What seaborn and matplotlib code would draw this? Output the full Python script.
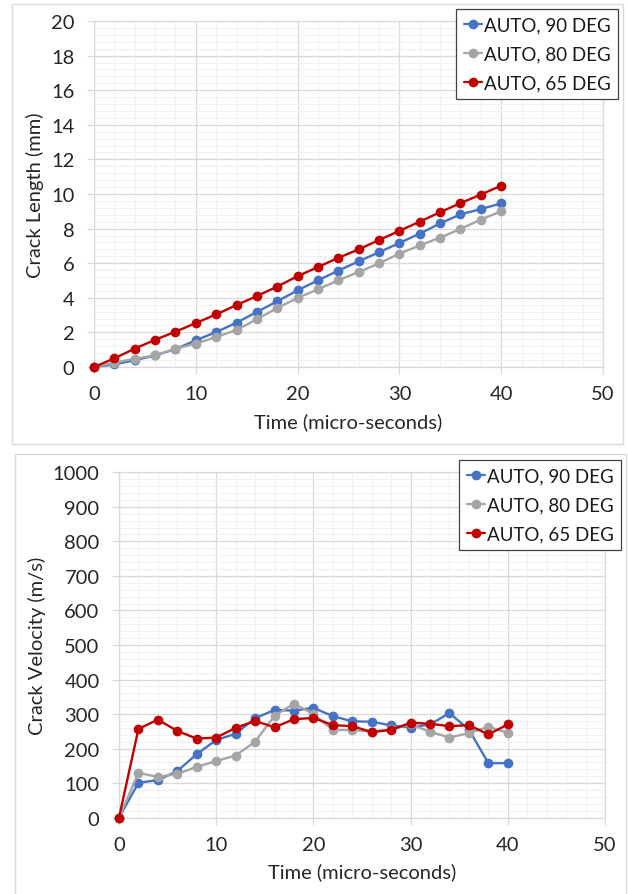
import numpy as np
import pandas as pd
import matplotlib
matplotlib.use("Agg")
import matplotlib.pyplot as plt
from matplotlib.ticker import MultipleLocator
from matplotlib.patches import Rectangle
import seaborn as sns

# ── Data ──────────────────────────────────────────────────────────────────────
time_us = [0, 2, 4, 6, 8, 10, 12, 14, 16, 18, 20,
           22, 24, 26, 28, 30, 32, 34, 36, 38, 40]

series_names = ["AUTO, 90 DEG", "AUTO, 80 DEG", "AUTO, 65 DEG"]

length_90 = [0, 0.15, 0.39, 0.67, 1.04, 1.54, 2.02, 2.56, 3.18, 3.80, 4.43,
             5.01, 5.57, 6.11, 6.63, 7.17, 7.71, 8.30, 8.82, 9.13, 9.46]
length_80 = [0, 0.25, 0.48, 0.67, 1.06, 1.35, 1.73, 2.14, 2.76, 3.41, 3.99,
             4.49, 5.01, 5.49, 5.99, 6.55, 7.03, 7.48, 7.98, 8.52, 9.00]
length_65 = [0, 0.50, 1.06, 1.57, 2.04, 2.54, 3.04, 3.58, 4.10, 4.65, 5.25,
             5.78, 6.31, 6.80, 7.34, 7.87, 8.40, 8.95, 9.47, 9.97, 10.48]

velocity_90 = [0, 101, 109, 135, 184, 225, 243, 288, 312, 310, 318,
               294, 279, 278, 267, 261, 270, 303, 255, 158, 158]
velocity_80 = [0, 130, 118, 127, 147, 164, 180, 220, 295, 330, 300,
               254, 254, 249, 256, 270, 249, 232, 245, 263, 246]
velocity_65 = [0, 257, 284, 251, 229, 232, 260, 280, 262, 285, 289,
               268, 265, 248, 254, 275, 272, 265, 268, 241, 270]

COLORS = ["#4472C4", "#A5A5A5", "#C00000"]
GRID_MAJ = "#d9d9d9"
GRID_MIN = "#f0f0f0"
TEXT = "#262626"

sns.set_theme(style="white")
plt.rcParams["font.family"] = ["Lato", "DejaVu Sans"]


def long_frame(values):
    rows = []
    for name, vals in zip(series_names, values):
        for t, v in zip(time_us, vals):
            rows.append({"Time": t, "Value": v, "Series": name})
    return pd.DataFrame(rows)


def style_axes(ax, ymax, ymajor, yminor, ylabel):
    ax.set_xlim(0, 50)
    ax.set_ylim(0, ymax)
    ax.xaxis.set_major_locator(MultipleLocator(10))
    ax.xaxis.set_minor_locator(MultipleLocator(2))
    ax.yaxis.set_major_locator(MultipleLocator(ymajor))
    ax.yaxis.set_minor_locator(MultipleLocator(yminor))
    ax.grid(which="major", color=GRID_MAJ, linewidth=0.9)
    ax.grid(which="minor", color=GRID_MIN, linewidth=0.7)
    ax.set_axisbelow(True)
    for sp in ax.spines.values():
        sp.set_color(GRID_MAJ)
        sp.set_linewidth(0.9)
    ax.tick_params(which="major", length=5, width=0.9, color=GRID_MAJ,
                   labelsize=14.5, labelcolor=TEXT, left=True, bottom=True)
    ax.tick_params(axis="x", which="major", pad=8)
    ax.tick_params(axis="y", which="major", pad=9)
    ax.tick_params(which="minor", length=0)
    ax.set_xlabel("Time (micro-seconds)", fontsize=14.5, color=TEXT, labelpad=7)
    ax.set_ylabel(ylabel, fontsize=14.5, color=TEXT, labelpad=5)


def draw_panel(fig, rect, frame, values, ymax, ymajor, yminor, ylabel, leg_anchor):
    fig.patches.append(Rectangle(frame[:2], frame[2], frame[3], transform=fig.transFigure,
                                 fill=False, edgecolor="#d9d9d9", linewidth=1.0))
    ax = fig.add_axes(rect)
    df = long_frame(values)
    sns.lineplot(data=df, x="Time", y="Value", hue="Series", palette=COLORS,
                 marker="o", markersize=7, markeredgewidth=0, linewidth=1.7,
                 ax=ax, legend=False, clip_on=False, zorder=3)
    style_axes(ax, ymax, ymajor, yminor, ylabel)
    handles = [plt.Line2D([], [], color=c, marker="o", markersize=6, linewidth=1.6)
               for c in COLORS]
    leg = fig.legend(handles, series_names, loc="upper right",
                     bbox_to_anchor=leg_anchor, bbox_transform=fig.transFigure,
                     fontsize=13.5, frameon=True, fancybox=False, framealpha=1,
                     edgecolor="#404040", handlelength=0.95, handletextpad=0.1,
                     borderpad=0.4, labelspacing=0.65, borderaxespad=0)
    leg.get_frame().set_linewidth(0.9)
    for txt in leg.get_texts():
        txt.set_color("#1a1a1a")
    return ax


fig = plt.figure(figsize=(6.28, 8.95), dpi=100)
W, H = 628.0, 895.0

# top panel: crack length
draw_panel(fig,
           [94 / W, 1 - 368 / H, (603 - 94) / W, (368 - 22) / H],
           (12 / W, 1 - 445 / H, (623 - 12) / W, (445 - 5) / H),
           [length_90, length_80, length_65], 20, 2, 0.4,
           "Crack Length (mm)", (618 / W, 1 - 10 / H))

# bottom panel: crack velocity
draw_panel(fig,
           [119 / W, 1 - 818.7 / H, (605 - 119) / W, (818.7 - 473.3) / H],
           (15 / W, 1 - 905 / H, (626 - 15) / W, (905 - 455) / H),
           [velocity_90, velocity_80, velocity_65], 1000, 100, 20,
           "Crack Velocity (m/s)", (621 / W, 1 - 461 / H))

fig.savefig("out.png", dpi=100)
